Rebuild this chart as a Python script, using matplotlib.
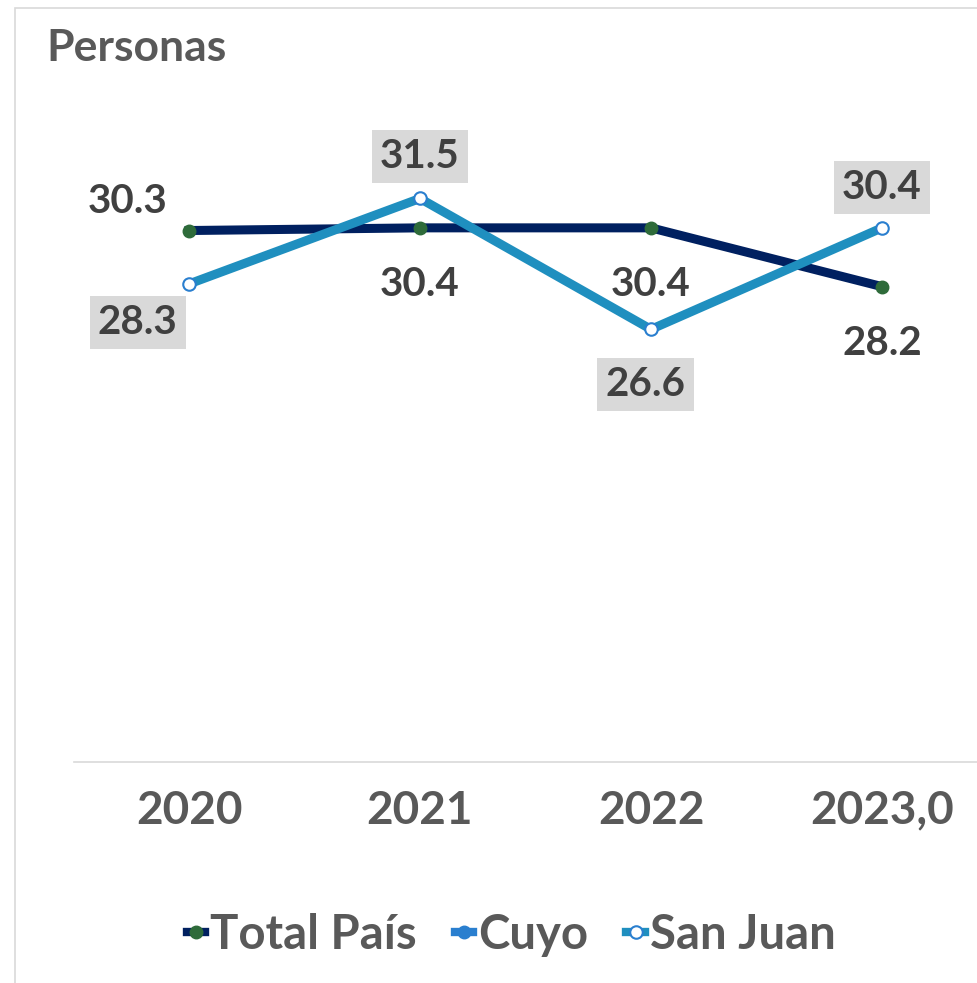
import numpy as np
import matplotlib.pyplot as plt
from matplotlib.patches import Rectangle
from matplotlib.lines import Line2D

years = ['2020', '2021', '2022', '2023,0']
total_pais = [30.3, 30.4, 30.4, 28.2]
cuyo = [np.nan, np.nan, np.nan, np.nan]
san_juan = [28.3, 31.5, 26.6, 30.4]

plt.rcParams['font.family'] = ['Lato', 'DejaVu Sans']
plt.rcParams['font.weight'] = 'bold'

W, H = 977, 983
fig = plt.figure(figsize=(W / 100, H / 100), dpi=100)

# chart frame (light gray)
fig.patches.append(Rectangle((15 / W, -0.1), 2, 1 - 8 / H + 0.1, transform=fig.transFigure,
                             fill=False, edgecolor='#d9d9d9', linewidth=1.2))

ax = fig.add_axes([73.5 / W, 1 - 762 / H, 924 / W, (762 - 105) / H])
x = np.arange(len(years))

ax.plot(x, total_pais, color='#002060', linewidth=6.5, marker='o', markersize=9,
        markerfacecolor='#2e6b3a', markeredgecolor='#2e6b3a', zorder=3)
ax.plot(x, cuyo, color='#2a7fcf', linewidth=6.5, marker='o', markersize=9, zorder=3)
ax.plot(x, san_juan, color='#1f8fbf', linewidth=6.5, marker='o', markersize=9,
        markerfacecolor='white', markeredgecolor='#2a7fcf', markeredgewidth=1.5, zorder=4)

ax.set_xlim(-0.5, 3.5)
ax.set_ylim(10.4, 35)

lbl = dict(fontsize=29, color='#404040', fontweight='bold')
box = dict(boxstyle='square,pad=0.2', facecolor='#d9d9d9', edgecolor='none')

# Total País labels (offsets in points)
tp_off = [(-44, 21), (0, -41), (0, -41), (0, -41)]
for i, v in enumerate(total_pais):
    ax.annotate(f'{v:.1f}', (x[i], v), xytext=tp_off[i], textcoords='offset points',
                ha='center', va='center', **lbl)

# San Juan labels
sj_off = [(-37, -28), (0, 30), (-4, -40), (0, 29)]
for i, v in enumerate(san_juan):
    ax.annotate(f'{v:.1f}', (x[i], v), xytext=sj_off[i], textcoords='offset points',
                ha='center', va='center', bbox=box, **lbl)

ax.set_xticks(x)
ax.set_xticklabels(years, fontsize=33, color='#595959', fontweight='bold')
ax.tick_params(axis='x', length=0, pad=20)
ax.set_yticks([])
for s in ['top', 'right', 'left']:
    ax.spines[s].set_visible(False)
ax.spines['bottom'].set_color('#d9d9d9')
ax.spines['bottom'].set_linewidth(1.2)

fig.text(46 / W, 1 - 48 / H, 'Personas', fontsize=32, color='#595959', fontweight='bold',
         ha='left', va='center')

handles = [
    Line2D([], [], color='#002060', linewidth=6, marker='o', markersize=9,
           markerfacecolor='#2e6b3a', markeredgecolor='#2e6b3a'),
    Line2D([], [], color='#2a7fcf', linewidth=6, marker='o', markersize=9),
    Line2D([], [], color='#1f8fbf', linewidth=6, marker='o', markersize=9,
           markerfacecolor='white', markeredgecolor='#2a7fcf', markeredgewidth=1.5),
]
fig.legend(handles, ['Total País', 'Cuyo', 'San Juan'], loc='center',
           bbox_to_anchor=(511 / W, 1 - 935 / H), ncol=3, frameon=False,
           handlelength=0.4, handletextpad=0.1, columnspacing=0.8,
           prop={'size': 34, 'weight': 'bold'}, labelcolor='#595959')

fig.savefig('out.png', dpi=100)
